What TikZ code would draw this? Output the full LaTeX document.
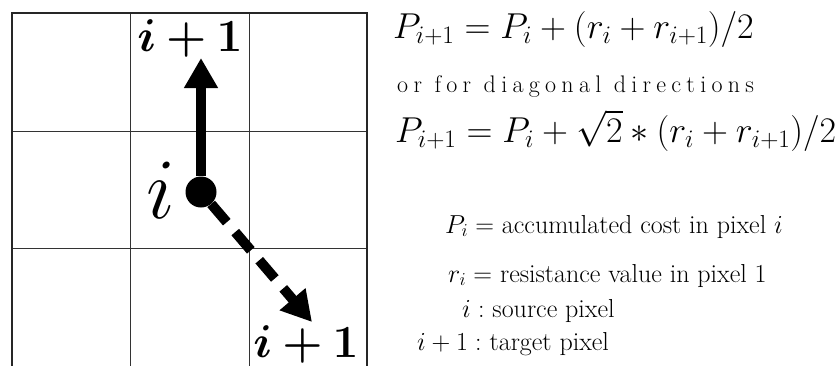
\RequirePackage{fix-cm}
\documentclass[tikz,border=0pt]{standalone}
\usepackage{fontspec}
\usepackage{amsmath,bm}
\usetikzlibrary{arrows.meta}

\newfontfamily\spacedfont{Latin Modern Roman}[LetterSpace=22]

\tikzset{
  gridline/.style={line width=1pt, black!80},
  gridframe/.style={line width=2pt, black!85},
  movearrow/.style={line width=10pt, -{Triangle[length=30pt,width=32pt]}},
  diagarrow/.style={movearrow, dash pattern=on 24pt off 13pt},
  srcdot/.style={circle, fill=black, minimum size=31pt, inner sep=0pt},
  steplabel/.style={inner sep=0pt, font=\fontsize{46}{50}\selectfont},
  eqn/.style={inner sep=0pt, anchor=base west, font=\fontsize{36}{42}\selectfont},
  defn/.style={inner sep=0pt, anchor=base west, font=\fontsize{26}{30}\selectfont}
}

\begin{document}
\begin{tikzpicture}[x=1pt, y=-1pt]
    \useasboundingbox (0,0) rectangle (840,365);

    % Raster 3x3
    \foreach \x in {130,249}
        \draw[gridline] (\x,13) -- (\x,366);
    \foreach \y in {131,248}
        \draw[gridline] (12,\y) -- (367,\y);
    \draw[gridframe] (12,366) -- (12,13) -- (367,13) -- (367,366);

    % Pixel i y vecinos
    \node[srcdot] (src) at (201,192) {};
    \node[inner sep=0pt, font=\fontsize{86}{90}\selectfont] (srclbl) at (161,190) {$i$};
    \node[steplabel] (uplbl) at (190,38) {$\bm{i+1}$};
    \node[steplabel] (dnlbl) at (306,344) {$\bm{i+1}$};
    \coordinate (uptip) at (201,58);
    \coordinate (dntip) at (312,322);

    % Flechas
    \draw[movearrow] (src) -- (uptip);
    \draw[diagarrow] (src) -- (dntip);

    % Ecuaciones
    \node[eqn] (eqa) at (393,38) {$P_{i+1}=P_i+(r_i+r_{i+1})/2$};
    \node[inner sep=0pt, anchor=base west, font=\spacedfont\fontsize{24}{28}\selectfont]
        (ordiag) at (397,92) {or for diagonal directions};
    \node[eqn] (eqb) at (395,142) {$P_{i+1}=P_i+\sqrt{2}*(r_i+r_{i+1})/2$};

    % Definiciones
    \node[defn] (defp) at (445,233) {$P_i=$ accumulated cost in pixel $i$};
    \node[defn] (defr) at (448,282) {$r_i=$ resistance value in pixel 1};
    \node[defn] (defs) at (462,317) {$i:$ source pixel};
    \node[defn] (deft) at (417,350) {$i+1:$ target pixel};
\end{tikzpicture}
\end{document}
